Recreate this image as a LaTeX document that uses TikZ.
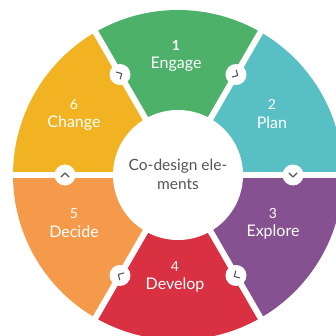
\documentclass[tikz,border=0pt]{standalone}
\usepackage{fontspec}
\setmainfont{Lato}
\definecolor{engagegreen}{HTML}{4DB16A}
\definecolor{planteal}{HTML}{58BFC4}
\definecolor{explorepurple}{HTML}{855190}
\definecolor{developred}{HTML}{D93142}
\definecolor{decideorange}{HTML}{F5994A}
\definecolor{changeyellow}{HTML}{F1B322}
\definecolor{chevrongray}{HTML}{555555}
\newcommand{\stageno}[1]{{\fontsize{14}{15}\selectfont #1}}
\tikzset{every path/.style={line width=1 pt}}
\tikzset{
  stage/.style={text=white, align=center, font=\fontsize{16}{18.5}\selectfont},
  core/.style={text=chevrongray, align=center, font=\fontsize{15.5}{19}\selectfont},
  turn/.style={circle, fill=white, minimum size=21pt, inner sep=0pt},
  chevron/.style={draw=chevrongray, line width=1.1pt, line cap=round, line join=round},
  gap/.style={draw=white, line width=6pt}
}

\begin{document}
\begin{tikzpicture}[x=1pt,y=1pt]
\useasboundingbox (-178,-161) rectangle (157,175);
\fill[engagegreen] (0,0) -- (60:165) arc[start angle=60,end angle=120,radius=165] -- cycle;
\fill[planteal] (0,0) -- (0:165) arc[start angle=0,end angle=60,radius=165] -- cycle;
\fill[explorepurple] (0,0) -- (-60:165) arc[start angle=-60,end angle=0,radius=165] -- cycle;
\fill[developred] (0,0) -- (-120:165) arc[start angle=-120,end angle=-60,radius=165] -- cycle;
\fill[decideorange] (0,0) -- (180:165) arc[start angle=180,end angle=240,radius=165] -- cycle;
\fill[changeyellow] (0,0) -- (120:165) arc[start angle=120,end angle=180,radius=165] -- cycle;
\draw[gap] (0,0) -- (0:170);
\draw[gap] (0,0) -- (60:170);
\draw[gap] (0,0) -- (120:170);
\draw[gap] (0,0) -- (180:170);
\draw[gap] (0,0) -- (240:170);
\draw[gap] (0,0) -- (300:170);
\fill[white] (0,0) circle[radius=65];

\node[core] (elements) at (0,1) {Co-design ele-\\ments};
\node[stage] (engage) at (-2,119) {\stageno{\bfseries 1}\\Engage};
\node[stage] (plan) at (94,61) {\stageno{2}\\Plan};
\node[stage] (explore) at (95,-49) {\stageno{3}\\Explore};
\node[stage] (develop) at (-3,-102) {\stageno{4}\\Develop};
\node[stage] (decide) at (-104,-48) {\stageno{5}\\Decide};
\node[stage] (change) at (-104,60) {\stageno{6}\\Change};

\node[turn] (turna) at (60:116) {};
\node[turn] (turnb) at (0:115) {};
\node[turn] (turnc) at (-60:116) {};
\node[turn] (turnd) at (-120:116) {};
\node[turn] (turne) at (180:113) {};
\node[turn] (turnf) at (120:116) {};
\draw[chevron, shift={(turna)}, rotate=-30] (-2,4) -- (2,0) -- (-2,-4);
\draw[chevron, shift={(turnb)}, rotate=-90] (-2,4) -- (2,0) -- (-2,-4);
\draw[chevron, shift={(turnc)}, rotate=-150] (-2,4) -- (2,0) -- (-2,-4);
\draw[chevron, shift={(turnd)}, rotate=150] (-2,4) -- (2,0) -- (-2,-4);
\draw[chevron, shift={(turne)}, rotate=90] (-2,4) -- (2,0) -- (-2,-4);
\draw[chevron, shift={(turnf)}, rotate=30] (-2,4) -- (2,0) -- (-2,-4);
\end{tikzpicture}
\end{document}
